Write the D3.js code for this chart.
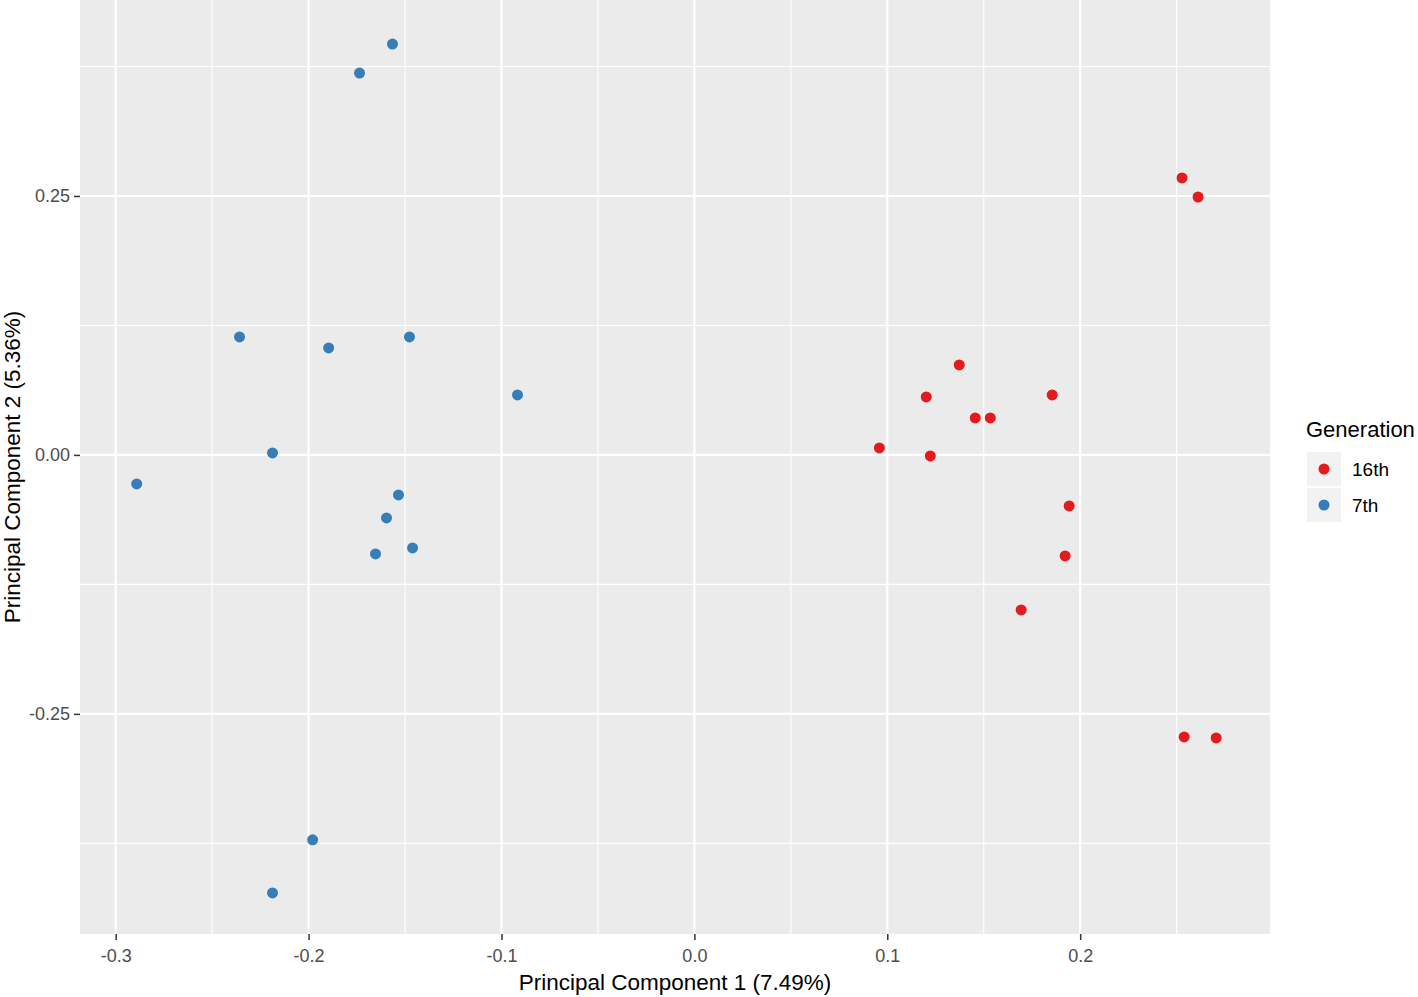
<!DOCTYPE html>
<html>
<head>
<meta charset="utf-8">
<script src="https://cdn.jsdelivr.net/npm/d3@7"></script>
<style>
  body { margin: 0; background: #fff; }
  text { font-family: "Liberation Sans", Arial, sans-serif; }
</style>
</head>
<body>
<div id="chart"></div>
<script>
// PCA scores
const gen16X = [0.2528, 0.2611, 0.1373, 0.1202, 0.1855, 0.1456, 0.1534, 0.0959, 0.1223, 0.1943, 0.1922, 0.1694, 0.2539, 0.2705];
const gen16Y = [0.2674, 0.2490, 0.0869, 0.0560, 0.0579, 0.0357, 0.0357, 0.0068, -0.0010, -0.0492, -0.0975, -0.1496, -0.2722, -0.2732];
const gen7X = [-0.1565, -0.1736, -0.2358, -0.1896, -0.1477, -0.0917, -0.2187, -0.2891, -0.1534, -0.1596, -0.1653, -0.1461, -0.1979, -0.2187];
const gen7Y = [0.3967, 0.3687, 0.1139, 0.1033, 0.1139, 0.0579, 0.0019, -0.0280, -0.0386, -0.0608, -0.0956, -0.0898, -0.3716, -0.4228];

const groups = ["16th", "7th"];
const groupColors = ["#E41A1C", "#377EB8"];
const xTicks = [-0.3, -0.2, -0.1, 0.0, 0.1, 0.2];
const yTicks = [-0.25, 0.00, 0.25];

let points = [];
gen16X.forEach((x, i) => points.push({x: x, y: gen16Y[i], g: "16th"}));
gen7X.forEach((x, i) => points.push({x: x, y: gen7Y[i], g: "7th"}));

const W = 1418, H = 997;
const margin = {top: 0, right: 148, bottom: 63, left: 80};
const width = W - margin.left - margin.right;
const height = H - margin.top - margin.bottom;

const svg = d3.select("#chart").append("svg")
  .attr("width", W)
  .attr("height", H);

const g = svg.append("g")
  .attr("transform", "translate(" + margin.left + "," + margin.top + ")");

const x = d3.scaleLinear().domain([-0.3185, 0.2984]).range([0, width]);
const y = d3.scaleLinear().domain([-0.4625, 0.4392]).range([height, 0]);
const color = d3.scaleOrdinal().domain(groups).range(groupColors);

// R style labels: plain hyphen for negatives
const fmt = p => d => d3.format(p)(d).replace("\u2212", "-");

// panel
g.append("rect")
  .attr("width", width)
  .attr("height", height)
  .attr("fill", "#EBEBEB");

// minor grid
const xMinor = [-0.25, -0.15, -0.05, 0.05, 0.15, 0.25];
const yMinor = [-0.375, -0.125, 0.125, 0.375];
g.selectAll(".xminor").data(xMinor).enter().append("line")
  .attr("x1", d => x(d)).attr("x2", d => x(d))
  .attr("y1", 0).attr("y2", height)
  .attr("stroke", "#fff").attr("stroke-width", 1.1);
g.selectAll(".yminor").data(yMinor).enter().append("line")
  .attr("y1", d => y(d)).attr("y2", d => y(d))
  .attr("x1", 0).attr("x2", width)
  .attr("stroke", "#fff").attr("stroke-width", 1.1);

// major grid
g.selectAll(".xmajor").data(xTicks).enter().append("line")
  .attr("x1", d => x(d)).attr("x2", d => x(d))
  .attr("y1", 0).attr("y2", height)
  .attr("stroke", "#fff").attr("stroke-width", 2.2);
g.selectAll(".ymajor").data(yTicks).enter().append("line")
  .attr("y1", d => y(d)).attr("y2", d => y(d))
  .attr("x1", 0).attr("x2", width)
  .attr("stroke", "#fff").attr("stroke-width", 2.2);

// axes
const xAxis = d3.axisBottom(x).tickValues(xTicks).tickFormat(fmt(".1f")).tickSize(6).tickPadding(9);
const yAxis = d3.axisLeft(y).tickValues(yTicks).tickFormat(fmt(".2f")).tickSize(6).tickPadding(4);

const gx = g.append("g").attr("transform", "translate(0," + height + ")").call(xAxis);
const gy = g.append("g").call(yAxis);
[gx, gy].forEach(a => {
  a.select(".domain").remove();
  a.selectAll(".tick line").attr("stroke", "#333").attr("stroke-width", 1.5);
  a.selectAll(".tick text").attr("fill", "#4D4D4D").style("font-size", "18px");
});

// points
g.selectAll(".dot").data(points).enter().append("circle")
  .attr("class", "dot")
  .attr("cx", d => x(d.x))
  .attr("cy", d => y(d.y))
  .attr("r", 5.5)
  .attr("fill", d => color(d.g));

// axis titles
svg.append("text")
  .attr("x", margin.left + width / 2)
  .attr("y", 990)
  .attr("text-anchor", "middle")
  .style("font-size", "22.5px")
  .attr("fill", "#000")
  .text("Principal Component 1 (7.49%)");

svg.append("text")
  .attr("transform", "translate(20," + (height / 2) + ") rotate(-90)")
  .attr("text-anchor", "middle")
  .style("font-size", "22.5px")
  .attr("fill", "#000")
  .text("Principal Component 2 (5.36%)");

// legend
const legend = svg.append("g").attr("transform", "translate(1306,0)");
legend.append("text")
  .attr("x", 0).attr("y", 437)
  .style("font-size", "22px")
  .text("Generation");

const items = legend.selectAll(".item").data(groups).enter().append("g")
  .attr("transform", (d, i) => "translate(0," + (452 + i * 36) + ")");
items.append("rect")
  .attr("x", 1).attr("width", 34).attr("height", 34)
  .attr("fill", "#F2F2F2");
items.append("circle")
  .attr("cx", 18).attr("cy", 17).attr("r", 5.5)
  .attr("fill", d => color(d));
items.append("text")
  .attr("x", 46).attr("y", 24)
  .style("font-size", "19px")
  .text(d => d);
</script>
</body>
</html>
